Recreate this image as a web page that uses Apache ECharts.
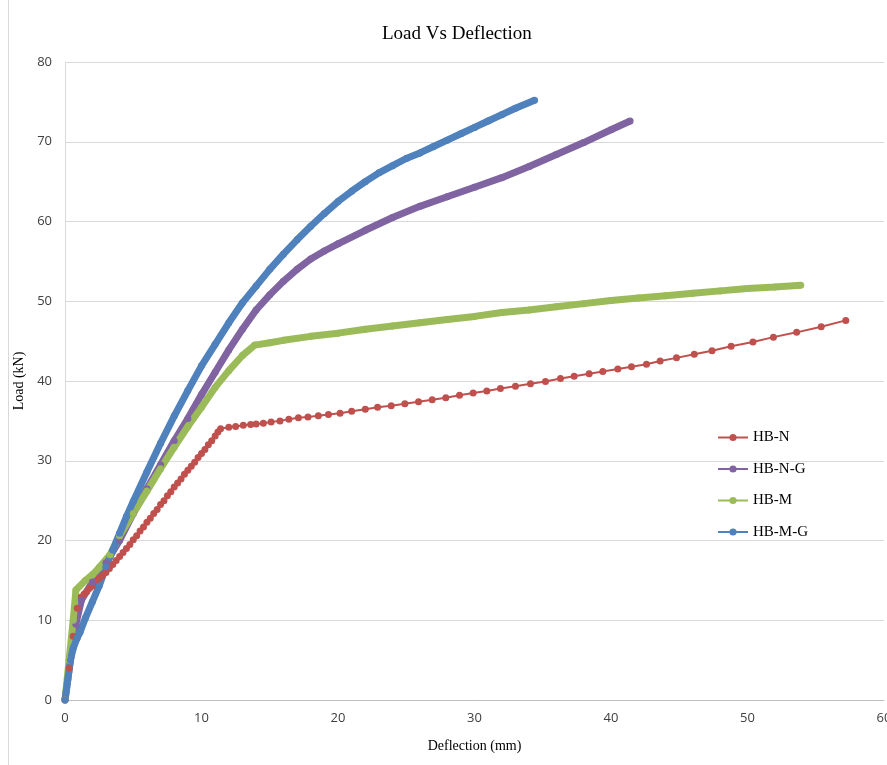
<!DOCTYPE html>
<html>
<head>
<meta charset="utf-8">
<script src="https://cdn.jsdelivr.net/npm/echarts@6/dist/echarts.min.js"></script>
<style>
  html, body { margin: 0; padding: 0; background: #fff; }
  #main { width: 887px; height: 765px; }
</style>
</head>
<body>
<div id="main"></div>
<script>
// deflection (mm), load (kN)
var hbN = [
  [0,0],[0.3,4],[0.6,8],[0.9,11.5],[1.2,12.9],[1.4,13.3],[1.6,13.6],[1.8,14.0],[2,14.3],[2.25,14.7],
  [2.5,15.2],[2.75,15.6],[3,16.0],[3.25,16.5],[3.5,17.0],[3.75,17.5],[4,18.0],[4.25,18.5],[4.5,19.0],
  [4.75,19.5],[5,20.1],[5.25,20.6],[5.5,21.2],[5.75,21.7],[6,22.3],[6.25,22.8],[6.5,23.4],[6.75,23.9],
  [7,24.5],[7.25,25.0],[7.5,25.6],[7.75,26.1],[8,26.7],[8.25,27.2],[8.5,27.7],[8.75,28.3],[9,28.8],
  [9.25,29.3],[9.5,29.8],[9.75,30.4],[10,30.9],[10.25,31.4],[10.5,32.0],[10.75,32.5],[11,33.1],
  [11.2,33.6],[11.4,34.0],
  [12.0,34.2],[12.5,34.3],[13.06,34.45],[13.6,34.55],[14.0,34.6],[14.53,34.7],[15.1,34.85],[15.75,35.0],
  [16.4,35.2],[17.1,35.4],[17.8,35.5],[18.56,35.65],[19.3,35.8],[20.15,35.95],[21.0,36.2],[22.0,36.45],
  [22.9,36.7],[23.9,36.9],[24.9,37.15],[25.9,37.4],[26.9,37.65],[27.9,37.9],[28.9,38.2],[29.9,38.5],
  [30.9,38.75],[31.9,39.05],[33.0,39.35],[34.1,39.65],[35.2,39.95],[36.3,40.3],[37.3,40.6],[38.4,40.9],
  [39.4,41.2],[40.5,41.5],[41.5,41.8],[42.6,42.1],[43.6,42.5],[44.8,42.9],[46.1,43.35],[47.4,43.8],
  [48.8,44.35],[50.4,44.9],[51.9,45.5],[53.6,46.1],[55.4,46.8],[57.2,47.6]
];
var hbNG = [
  [0,0],[0.4,5],[0.8,9.5],[1.2,12.5],[2,14.8],[3,17.2],[4,20.0],[5,23.4],[6,26.5],[7,29.5],[8,32.5],
  [9,35.3],[10,38.3],[11,41.1],[12,43.9],[13,46.5],[14,48.9],[15,50.8],[16,52.5],[17,54.0],[18,55.3],
  [19,56.3],[20,57.2],[22,58.9],[24,60.5],[26,61.9],[28,63.1],[30,64.3],[32,65.5],[34,66.9],[36,68.4],
  [38,69.9],[40,71.5],[41.4,72.6]
];
var hbM = [
  [0,0],[0.3,5],[0.6,10],[0.8,13.8],[1.5,15],[2,15.7],[2.5,16.6],[3.3,18.2],[4,20.6],[5,23.4],[6,26.2],
  [7,29.0],[8,31.7],[9,34.3],[10,36.7],[11,39.2],[12,41.3],[13,43.2],[13.9,44.5],[15,44.8],[16,45.1],
  [18,45.6],[20,46.0],[22,46.5],[24,46.9],[26,47.3],[28,47.7],[30,48.1],[32,48.6],[34,48.9],[36,49.3],
  [38,49.7],[40,50.1],[42,50.4],[44,50.7],[46,51.0],[48,51.3],[50,51.6],[52,51.8],[53.9,52.0]
];
var hbMG = [
  [0,0],[0.2,2.5],[0.4,5],[0.6,6.5],[0.9,7.8],[1.1,8.5],[1.5,10.3],[2,12.3],[2.5,14.3],[3,16.7],
  [3.5,18.8],[4,20.9],[4.5,23.0],[5,24.9],[6,28.6],[7,32.2],[8,35.6],[9,38.8],[10,41.9],[11,44.6],
  [12,47.3],[13,49.8],[14,51.9],[15,54.0],[16,55.9],[17,57.7],[18,59.4],[19,61.0],[20,62.5],[21,63.8],
  [22,65.0],[23,66.1],[24,67.0],[25,67.9],[26,68.6],[27,69.4],[28,70.2],[29,71.0],[30,71.8],[31,72.6],
  [32,73.4],[33,74.2],[34.4,75.2]
];
var seriesNames = ['HB-N', 'HB-N-G', 'HB-M', 'HB-M-G'];
var seriesColors = ['#C0504D', '#8064A2', '#9BBB59', '#4F81BD'];

var serif = '"Liberation Serif", "Times New Roman", serif';
var sans = '"Open Sans", "Liberation Sans", sans-serif';

function mk(i, data, w) {
  return {
    name: seriesNames[i],
    type: 'line',
    data: data,
    symbol: 'circle',
    symbolSize: 7,
    color: seriesColors[i],
    lineStyle: { width: w, color: seriesColors[i] },
    itemStyle: { color: seriesColors[i] }
  };
}

var myChart = echarts.init(document.getElementById('main'));
myChart.setOption({
  animation: false,
  backgroundColor: '#fff',
  title: {
    text: 'Load Vs Deflection',
    left: 377, top: 20,
    textStyle: { fontFamily: serif, fontSize: 19, fontWeight: 'normal', color: '#000' }
  },
  graphic: [{
    type: 'line', shape: { x1: 8.5, y1: 0, x2: 8.5, y2: 765 },
    style: { stroke: '#d9d9d9', lineWidth: 1 }
  }],
  legend: {
    orient: 'vertical',
    left: 712, top: 425,
    itemWidth: 30, itemHeight: 9, itemGap: 16.5,
    lineStyle: { width: 2 },
    textStyle: { fontFamily: serif, fontSize: 15, color: '#000' },
    data: seriesNames
  },
  grid: { left: 65, right: 3, top: 62, bottom: 65, outerBoundsMode: 'none' },
  xAxis: {
    type: 'value', min: 0, max: 60, interval: 10,
    name: 'Deflection (mm)', nameLocation: 'middle', nameGap: 39,
    nameTextStyle: { fontFamily: serif, fontSize: 14, color: '#000' },
    axisLine: { show: true, lineStyle: { color: '#bfbfbf' } },
    axisTick: { show: false },
    splitLine: { show: false },
    axisLabel: { fontFamily: sans, fontSize: 13, color: '#404040', margin: 12 }
  },
  yAxis: {
    type: 'value', min: 0, max: 80, interval: 10,
    name: 'Load (kN)', nameLocation: 'middle', nameGap: 33, nameRotate: 90,
    nameTextStyle: { fontFamily: serif, fontSize: 14, color: '#000' },
    axisLine: { show: true, lineStyle: { color: '#d9d9d9' } },
    axisTick: { show: false },
    splitLine: { show: true, lineStyle: { color: '#d9d9d9' } },
    axisLabel: { fontFamily: sans, fontSize: 13, color: '#404040', margin: 13 }
  },
  series: [
    mk(0, hbN, 2),
    mk(1, hbNG, 7),
    mk(2, hbM, 7),
    mk(3, hbMG, 7)
  ]
});
</script>
</body>
</html>
